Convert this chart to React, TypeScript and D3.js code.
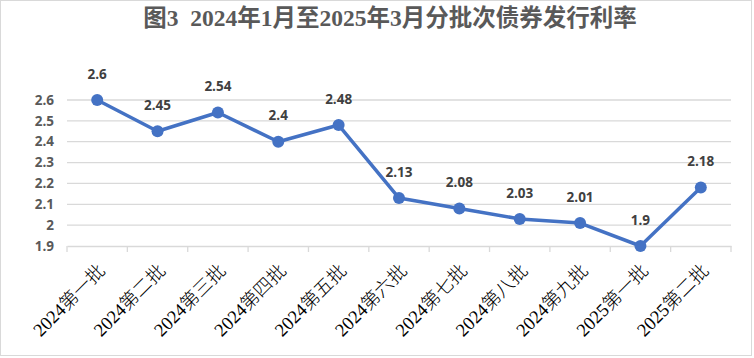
import { useEffect, useRef } from 'react';
import * as d3 from "d3";

const categories = [
    "2024第一批", "2024第二批", "2024第三批", "2024第四批", "2024第五批", "2024第六批",
    "2024第七批", "2024第八批", "2024第九批", "2025第一批", "2025第二批",
];
const rates = [2.6, 2.45, 2.54, 2.4, 2.48, 2.13, 2.08, 2.03, 2.01, 1.9, 2.18];
const yTicks = [1.9, 2.0, 2.1, 2.2, 2.3, 2.4, 2.5, 2.6];
const title = "图3  2024年1月至2025年3月分批次债券发行利率";

const App: React.FC = () => {
    const ref = useRef<SVGSVGElement | null>(null);

    useEffect(() => {
        if (!ref.current) return;
        const width = 754;
        const height = 358;
        const left = 67, right = 731, top = 100, bottom = 246;

        const svg = d3.select(ref.current)
            .attr("width", width)
            .attr("height", height);
        svg.selectAll("*").remove();

        // 背景 + 边框
        svg.append("rect")
            .attr("x", 0.5).attr("y", 0.5)
            .attr("width", width - 3).attr("height", height - 3)
            .attr("fill", "#fff")
            .attr("stroke", "#d9d9d9")
            .attr("stroke-width", 1);

        svg.append("text")
            .attr("x", 390)
            .attr("y", 26)
            .attr("text-anchor", "middle")
            .attr("font-family", "'Liberation Serif', 'Noto Sans CJK SC', serif")
            .attr("font-weight", "bold")
            .attr("font-size", "23.5px")
            .attr("fill", "#595959")
            .style("white-space", "pre")
            .text(title);

        const x = d3.scaleBand()
            .domain(categories)
            .range([left, right]);

        const y = d3.scaleLinear()
            .domain([1.9, 2.6])
            .range([bottom, top]);

        // 网格线
        svg.append("g")
            .selectAll("line")
            .data(yTicks.slice(1))
            .enter()
            .append("line")
            .attr("x1", left).attr("x2", right)
            .attr("y1", d => y(d)).attr("y2", d => y(d))
            .attr("stroke", "#d9d9d9")
            .attr("stroke-width", 1.3);

        // y轴标签
        svg.append("g")
            .selectAll("text")
            .data(yTicks)
            .enter()
            .append("text")
            .attr("x", 54)
            .attr("y", d => y(d))
            .attr("dy", "0.35em")
            .attr("text-anchor", "end")
            .attr("font-family", "'Open Sans', 'Liberation Sans', sans-serif")
            .attr("font-weight", "bold")
            .attr("font-size", "13.5px")
            .attr("fill", "#595959")
            .text(d => `${d3.format("~g")(d)}`);

        // x轴
        const xAxis = svg.append("g")
            .attr("transform", `translate(0, ${bottom})`)
            .call(d3.axisBottom(x).tickSize(0).tickFormat(() => ""));
        xAxis.select(".domain").attr("stroke", "#d9d9d9").attr("stroke-width", 1.3);
        const boundaries = [...categories.map(c => x(c) || 0), right];
        xAxis.append("g")
            .selectAll("line")
            .data(boundaries)
            .enter()
            .append("line")
            .attr("x1", d => d).attr("x2", d => d)
            .attr("y1", 0).attr("y2", 6)
            .attr("stroke", "#d9d9d9")
            .attr("stroke-width", 1.3);

        svg.append("g")
            .selectAll("text")
            .data(categories)
            .enter()
            .append("text")
            .attr("transform", d => `translate(${(x(d) || 0) + x.bandwidth() / 2 + 9}, 272) rotate(-45)`)
            .attr("text-anchor", "end")
            .attr("font-family", "'Liberation Serif', 'Noto Sans CJK SC', serif")
            .attr("font-weight", "300")
            .attr("font-size", "18.5px")
            .attr("fill", "#000")
            .text(d => d);

        const cx = (i: number) => (x(categories[i]) || 0) + x.bandwidth() / 2;

        const line = d3.line<number>()
            .x((_, i) => cx(i))
            .y(d => y(d));

        svg.append("path")
            .datum(rates)
            .attr("fill", "none")
            .attr("stroke", "#4472c4")
            .attr("stroke-width", 3.5)
            .attr("stroke-linejoin", "round")
            .attr("d", line);

        svg.append("g")
            .selectAll("circle")
            .data(rates)
            .enter()
            .append("circle")
            .attr("cx", (_, i) => cx(i))
            .attr("cy", d => y(d))
            .attr("r", 6)
            .attr("fill", "#4472c4");

        // 数据标签
        svg.append("g")
            .selectAll("text")
            .data(rates)
            .enter()
            .append("text")
            .attr("x", (_, i) => cx(i))
            .attr("y", d => y(d) - 26)
            .attr("dy", "0.35em")
            .attr("text-anchor", "middle")
            .attr("font-family", "'Open Sans', 'Liberation Sans', sans-serif")
            .attr("font-weight", "bold")
            .attr("font-size", "13.5px")
            .attr("fill", "#404040")
            .text(d => `${d}`);
    }, []);

    return (
        <div style={{ position: "absolute", left: 0, top: 0 }}>
            <svg ref={ref} style={{ display: "block" }}></svg>
        </div>
    );
};

export default App;
